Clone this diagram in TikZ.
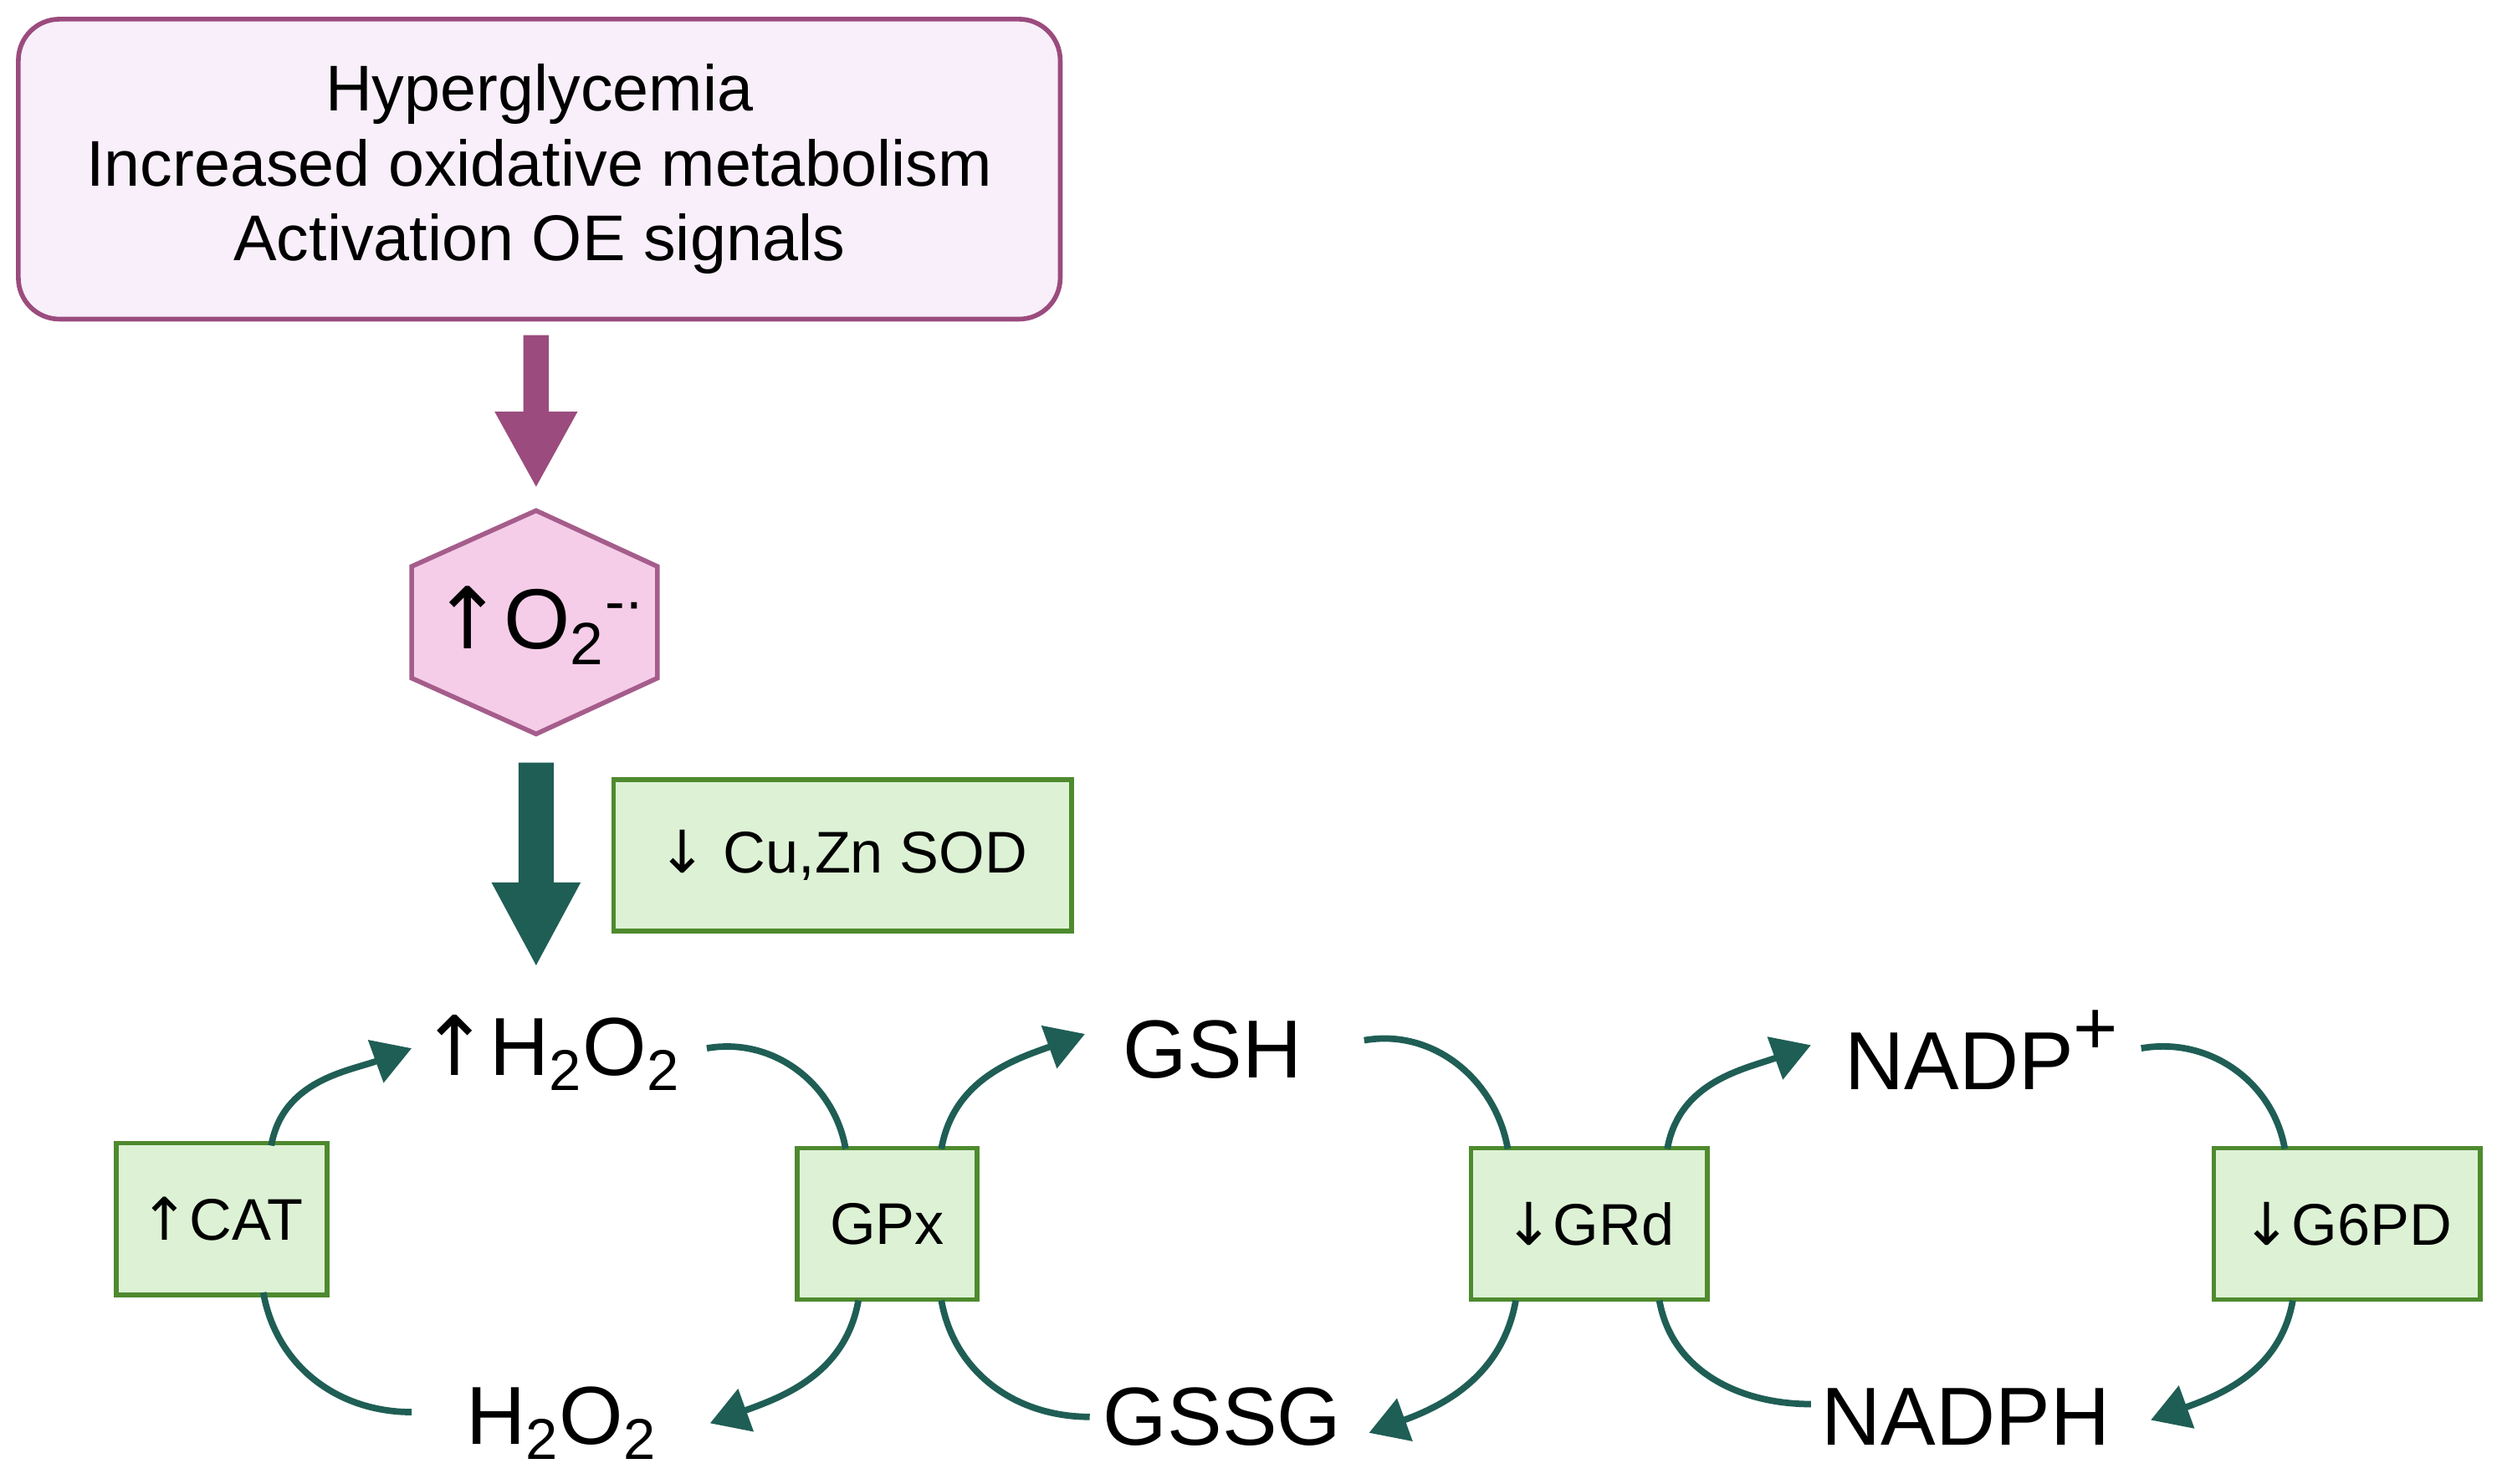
\documentclass[tikz,border=0pt]{standalone}
\usepackage{fontspec}
\setmainfont{Liberation Sans}
\newfontfamily\arrf{DejaVu Sans}
\usetikzlibrary{shapes.geometric,arrows.meta}
\definecolor{teal}{HTML}{1F5E55}
\definecolor{plum}{HTML}{9B4B7E}
\definecolor{lav}{HTML}{F8EFFA}
\definecolor{hexf}{HTML}{F5CDE8}
\definecolor{boxf}{HTML}{DDF2D5}
\definecolor{boxd}{HTML}{4E8A2E}
\newcommand{\sbs}[1]{\textsubscript{#1}}
\newcommand{\myup}{{\arrf ↑}}
\newcommand{\mydn}{{\arrf ↓}}
\begin{document}
\begin{tikzpicture}[x=0.01907cm,y=-0.01907cm,
 enz/.style={draw=boxd,fill=boxf,line width=1.6pt,minimum height=95*0.01907cm,font=\fontsize{20}{24}\selectfont,inner sep=0pt},
 big/.style={font=\fontsize{28}{32}\selectfont,inner sep=0pt},
 cv/.style={draw=teal,line width=2.2pt},
 ar/.style={cv,-{Triangle[length=13pt,width=15pt]}}]
\useasboundingbox (0,0) rectangle (1565,930);
\node[draw=plum,fill=lav,line width=1.6pt,rounded corners=14pt,minimum width=653*0.01907cm,minimum height=188*0.01907cm,align=center,font=\fontsize{22}{25.5}\selectfont] (top) at (338,106) {Hyperglycemia\\Increased oxidative metabolism\\Activation OE signals};
\draw[draw=plum!90,fill=hexf,line width=1.6pt] (336,320) -- (412,355) -- (412,425) -- (336,460) -- (258,425) -- (258,355) -- cycle;
\node[font=\fontsize{29}{32}\selectfont,inner sep=0pt] (o2) at (338,392) {\myup O\sbs{2}\textsuperscript{-·}};
\fill[plum] (328,210) rectangle (344,258) (310,258) -- (362,258) -- (336,305) -- cycle;
\fill[teal] (325,478) rectangle (347,553) (308,553) -- (364,553) -- (336,605) -- cycle;
\node[enz,minimum width=287*0.01907cm] (sod) at (528,536) {\mydn\ Cu,Zn SOD};
\node[big] (h2o2u) at (345,660) {\myup H\sbs{2}O\sbs{2}};
\node[big] (gsh) at (760,658) {GSH};
\node[big] (nadp) at (1242,658) {NADP\raisebox{12pt}{\fontsize{26}{26}\selectfont +}};
\node[big] (h2o2d) at (352,892) {H\sbs{2}O\sbs{2}};
\node[big] (gssg) at (766,888) {GSSG};
\node[big] (nadph) at (1232,888) {NADPH};
\node[enz,minimum width=132*0.01907cm] (cat) at (139,764) {\myup CAT};
\node[enz,minimum width=113*0.01907cm] (gpx) at (556,767) {GPx};
\node[enz,minimum width=148*0.01907cm] (grd) at (996,767) {\mydn GRd};
\node[enz,minimum width=167*0.01907cm] (g6pd) at (1471,767) {\mydn G6PD};
\draw[ar] (170,718) to[out=80,in=200] (258,657);
\draw[cv] (443,657) to[out=10,in=100] (530,720);
\draw[ar] (590,720) to[out=80,in=200] (680,648);
\draw[cv] (855,652) to[out=10,in=100] (945,720);
\draw[ar] (1045,720) to[out=80,in=200] (1135,655);
\draw[cv] (1342,657) to[out=10,in=100] (1432,720);
\draw[cv] (165,810) to[out=-80,in=180] (258,885);
\draw[ar] (538,815) to[out=-100,in=20] (445,892);
\draw[cv] (590,815) to[out=-80,in=180] (683,888);
\draw[ar] (950,815) to[out=-100,in=20] (858,898);
\draw[cv] (1040,815) to[out=-80,in=180] (1135,880);
\draw[ar] (1437,815) to[out=-100,in=20] (1348,890);
\end{tikzpicture}
\end{document}
